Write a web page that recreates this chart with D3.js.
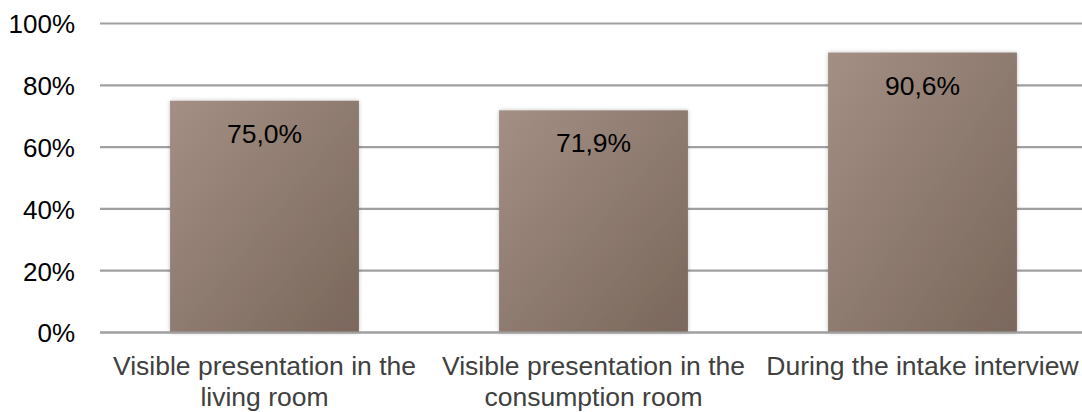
<!DOCTYPE html>
<html>
<head>
<meta charset="utf-8">
<script src="https://cdn.jsdelivr.net/npm/d3@7"></script>
<style>
  html, body { margin: 0; padding: 0; background: #fff; }
  svg { display: block; font-family: "Liberation Sans", Arial, Helvetica, sans-serif; }
</style>
</head>
<body>
<svg id="chart" width="1082" height="412"></svg>
<script>
// Chart data
const categories = [
  ["Visible presentation in the", "living room"],
  ["Visible presentation in the", "consumption room"],
  ["During the intake interview"]
];
const values = [75.0, 71.9, 90.6];
const valueLabels = ["75,0%", "71,9%", "90,6%"];
const yTicks = [0, 20, 40, 60, 80, 100];
const yTickLabels = ["0%", "20%", "40%", "60%", "80%", "100%"];

const W = 1082, H = 412;
const margin = { left: 100, right: -5, top: 23.5, bottom: 79.5 };
const svg = d3.select("#chart");

const x = d3.scaleBand()
  .domain(d3.range(categories.length))
  .range([margin.left, W - margin.right])
  .paddingInner(0.426)
  .paddingOuter(0.213);

const y = d3.scaleLinear()
  .domain([0, 100])
  .range([H - margin.bottom, margin.top]);

// Gradient and soft shadow for the bars
const defs = svg.append("defs");
const grad = defs.append("linearGradient")
  .attr("id", "barFill")
  .attr("x1", "0").attr("y1", "0")
  .attr("x2", "1").attr("y2", "1");
grad.append("stop").attr("offset", "0%").attr("stop-color", "#a38f83");
grad.append("stop").attr("offset", "100%").attr("stop-color", "#7a675c");

const shadow = defs.append("filter")
  .attr("id", "barShadow")
  .attr("x", "-10%").attr("y", "-10%")
  .attr("width", "120%").attr("height", "120%");
shadow.append("feGaussianBlur").attr("in", "SourceAlpha").attr("stdDeviation", 2.2).attr("result", "blur");
shadow.append("feComponentTransfer").attr("in", "blur").attr("result", "soft")
  .append("feFuncA").attr("type", "linear").attr("slope", 0.25);
const merge = shadow.append("feMerge");
merge.append("feMergeNode").attr("in", "soft");
merge.append("feMergeNode").attr("in", "SourceGraphic");

// Gridlines and y axis labels
const yAxis = d3.axisLeft(y)
  .tickValues(yTicks)
  .tickFormat((d, i) => yTickLabels[i])
  .tickSize(0)
  .tickPadding(25);

const gy = svg.append("g")
  .attr("transform", `translate(${margin.left},0)`)
  .call(yAxis);
gy.select(".domain").remove();
gy.selectAll("text")
  .attr("font-size", 26)
  .attr("fill", "#000")
  .attr("font-family", "\"Liberation Sans\", Arial, sans-serif")
  .attr("dy", "0.36em");

svg.append("g")
  .selectAll("line")
  .data(yTicks)
  .join("line")
  .attr("x1", margin.left)
  .attr("x2", W)
  .attr("y1", d => y(d))
  .attr("y2", d => y(d))
  .attr("stroke", "#a0a0a0")
  .attr("stroke-width", 2.2);

// Bars
svg.append("g")
  .selectAll("rect")
  .data(values)
  .join("rect")
  .attr("x", (d, i) => x(i))
  .attr("y", d => y(d))
  .attr("width", x.bandwidth())
  .attr("height", d => y(0) - y(d))
  .attr("fill", "url(#barFill)")
  .attr("filter", "url(#barShadow)");

// Baseline over the bar bottoms
svg.append("line")
  .attr("x1", margin.left).attr("x2", W)
  .attr("y1", y(0)).attr("y2", y(0))
  .attr("stroke", "#a0a0a0")
  .attr("stroke-width", 2.2);

// Value labels inside the bars
svg.append("g")
  .selectAll("text")
  .data(values)
  .join("text")
  .attr("x", (d, i) => x(i) + x.bandwidth() / 2)
  .attr("y", d => y(d) + 42)
  .attr("text-anchor", "middle")
  .attr("font-size", 26.5)
  .attr("fill", "#000")
  .text((d, i) => valueLabels[i]);

// Category labels
const xAxis = d3.axisBottom(x).tickSize(0).tickFormat(() => "");
const gx = svg.append("g")
  .attr("transform", `translate(0,${y(0)})`)
  .call(xAxis);
gx.select(".domain").remove();
gx.selectAll(".tick").each(function (d) {
  const t = d3.select(this).append("text")
    .attr("text-anchor", "middle")
    .attr("font-size", 26.5)
    .attr("fill", "#404040")
    .attr("x", 0)
    .attr("y", 42.5);
  categories[d].forEach((line, k) => {
    t.append("tspan").attr("x", 0).attr("dy", k === 0 ? 0 : 30.5).text(line);
  });
});
</script>
</body>
</html>
